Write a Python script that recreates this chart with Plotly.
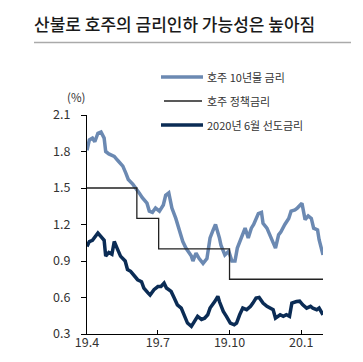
import plotly.graph_objects as go

# ---------------- data ----------------
dates_10y = ["2019-04-01","2019-04-04","2019-04-08","2019-04-11","2019-04-15","2019-04-19","2019-04-23",
             "2019-04-25","2019-04-29","2019-05-06","2019-05-10","2019-05-17","2019-05-21","2019-05-24",
             "2019-05-30","2019-06-03","2019-06-07","2019-06-11","2019-06-17","2019-06-20","2019-06-24",
             "2019-06-28","2019-07-03","2019-07-08","2019-07-11","2019-07-15","2019-07-16","2019-07-19",
             "2019-07-24","2019-07-29","2019-08-02","2019-08-06","2019-08-12","2019-08-13","2019-08-15",
             "2019-08-19","2019-08-23","2019-08-28","2019-09-02","2019-09-06","2019-09-10","2019-09-13",
             "2019-09-18","2019-09-20","2019-09-25","2019-09-30","2019-10-04","2019-10-08","2019-10-11",
             "2019-10-16","2019-10-21","2019-10-25","2019-10-29","2019-11-01","2019-11-07","2019-11-11",
             "2019-11-13","2019-11-18","2019-11-22","2019-11-26","2019-11-29","2019-12-03","2019-12-06",
             "2019-12-11","2019-12-16","2019-12-19","2019-12-24","2019-12-27","2020-01-02","2020-01-06",
             "2020-01-10","2020-01-14","2020-01-17","2020-01-22","2020-01-24","2020-01-29"]
au_10y = [1.81,1.895,1.91,1.88,1.95,1.96,1.91,
          1.80,1.78,1.76,1.73,1.68,1.62,1.57,
          1.53,1.50,1.46,1.42,1.375,1.31,1.30,
          1.335,1.31,1.36,1.44,1.46,1.42,1.335,
          1.25,1.14,1.06,1.006,0.95,0.94,0.90,
          0.965,0.92,0.88,0.92,1.09,1.155,1.20,
          1.09,1.03,0.95,0.98,0.90,0.90,1.006,
          1.09,1.17,1.09,1.17,1.20,1.29,1.30,
          1.21,1.17,1.115,1.047,1.006,1.115,1.14,
          1.20,1.25,1.31,1.32,1.335,1.375,1.24,
          1.27,1.25,1.17,1.155,1.075,0.95]

dates_policy = ["2019-04-01","2019-06-04","2019-07-02","2019-10-01","2020-01-29"]
au_policy = [1.5,1.25,1.0,0.75,0.75]

dates_fwd = ["2019-04-01","2019-04-04","2019-04-08","2019-04-11","2019-04-15","2019-04-19","2019-04-23",
             "2019-04-25","2019-04-29","2019-05-03","2019-05-06","2019-05-10","2019-05-14","2019-05-20",
             "2019-05-23","2019-05-27","2019-05-31","2019-06-05","2019-06-10","2019-06-13","2019-06-18",
             "2019-06-21","2019-06-26","2019-07-01","2019-07-05","2019-07-09","2019-07-12","2019-07-18",
             "2019-07-22","2019-07-26","2019-07-31","2019-08-05","2019-08-08","2019-08-13","2019-08-16",
             "2019-08-21","2019-08-26","2019-08-30","2019-09-03","2019-09-06","2019-09-12","2019-09-16",
             "2019-09-18","2019-09-23","2019-09-27","2019-10-02","2019-10-07","2019-10-10","2019-10-14",
             "2019-10-18","2019-10-23","2019-10-28","2019-10-31","2019-11-04","2019-11-08","2019-11-13",
             "2019-11-18","2019-11-22","2019-11-26","2019-11-29","2019-12-05","2019-12-09","2019-12-13",
             "2019-12-17","2019-12-20","2019-12-26","2019-12-30","2020-01-03","2020-01-08","2020-01-13",
             "2020-01-16","2020-01-21","2020-01-24","2020-01-29"]
fwd_jun20 = [1.02,1.06,1.07,1.10,1.13,1.10,1.07,
             0.94,0.97,0.955,1.06,1.00,0.94,0.90,
             0.83,0.815,0.787,0.746,0.73,0.678,0.64,
             0.62,0.664,0.69,0.69,0.718,0.678,0.65,
             0.595,0.54,0.513,0.43,0.39,0.363,0.39,
             0.445,0.42,0.43,0.458,0.513,0.567,0.61,
             0.567,0.486,0.445,0.39,0.376,0.39,0.458,
             0.513,0.50,0.527,0.554,0.595,0.60,0.554,
             0.527,0.513,0.50,0.43,0.458,0.445,0.458,
             0.445,0.554,0.567,0.57,0.54,0.513,0.527,
             0.513,0.50,0.513,0.458]

tick_vals = ["2019-04-01","2019-07-01","2019-10-01","2020-01-01"]
tick_text = ["19.4","19.7","19.10","20.1"]
y_ticks = [0.3,0.6,0.9,1.2,1.5,1.8,2.1]

names = ["호주 10년물 금리","호주 정책금리","2020년 6월 선도금리"]
colors = ["#6B89B2","#222222","#0B2C55"]
widths = [3.5,1.3,3.5]

# ---------------- layout geometry ----------------
W, H = 363, 362
L, R, T, B = 79, 315, 107, 326   # plot area in pixels
FONT = "Noto Sans CJK KR"

def px(x):
    return (x - L) / (R - L)

def py(y):
    return (B - y) / (B - T)

fig = go.Figure()
for d, v, n, c, w, shp in [(dates_10y, au_10y, names[0], colors[0], widths[0], "linear"),
                           (dates_policy, au_policy, names[1], colors[1], widths[1], "hv"),
                           (dates_fwd, fwd_jun20, names[2], colors[2], widths[2], "linear")]:
    fig.add_trace(go.Scatter(x=d, y=v, name=n, mode="lines",
                             line=dict(color=c, width=w, shape=shp), showlegend=False))

# custom legend
leg_rows = [69, 93, 117]
leg_x = [(153, 195), (156, 194), (153, 195)]
shapes = []
annotations = []
for i in range(3):
    shapes.append(dict(type="line", xref="paper", yref="paper",
                       x0=px(leg_x[i][0]), x1=px(leg_x[i][1]), y0=py(leg_rows[i]), y1=py(leg_rows[i]),
                       line=dict(color=colors[i], width=widths[i])))
    annotations.append(dict(text=names[i], xref="paper", yref="paper", x=px(197), y=py(leg_rows[i]),
                            xanchor="left", yanchor="middle", showarrow=False,
                            font=dict(family=FONT, size=11, color="#333333")))

# title underline
shapes.append(dict(type="line", xref="paper", yref="paper", x0=px(26), x1=px(343), y0=py(34.5), y1=py(34.5),
                   line=dict(color="#AAAAAA", width=1.5)))
annotations.append(dict(text="(%)", xref="paper", yref="paper", x=px(68), y=py(89),
                        xanchor="center", yanchor="middle", showarrow=False,
                        font=dict(family=FONT, size=11.5, color="#333333")))

fig.update_layout(
    width=W, height=H,
    margin=dict(l=L, r=W - R, t=T, b=H - B),
    paper_bgcolor="white", plot_bgcolor="white",
    title=dict(text="산불로 호주의 금리인하 가능성은 높아짐", x=26 / W, xanchor="left",
               y=1 - 17 / H, yanchor="middle", xref="container", yref="container",
               font=dict(family=FONT, size=17, color="#1A1A1A", weight=500)),
    shapes=shapes, annotations=annotations,
    font=dict(family=FONT, color="#333333"),
)
fig.update_xaxes(type="date", range=["2019-04-01", "2020-01-29"], tickvals=tick_vals, ticktext=tick_text,
                 showgrid=False, zeroline=False, showline=True, linecolor="#000000", linewidth=1.2,
                 ticks="inside", ticklen=4, tickcolor="#000000", ticklabelstandoff=-3,
                 tickfont=dict(family=FONT, size=12.5, color="#333333"))
fig.update_yaxes(range=[0.3, 2.1], tickvals=y_ticks, ticktext=[f"{v:.1f}" for v in y_ticks],
                 showgrid=False, zeroline=False, showline=True, linecolor="#000000", linewidth=1.2,
                 ticks="outside", ticklen=5, tickcolor="#000000", ticklabelstandoff=8,
                 tickfont=dict(family=FONT, size=12.5, color="#333333"))

fig.write_html("out.html")
